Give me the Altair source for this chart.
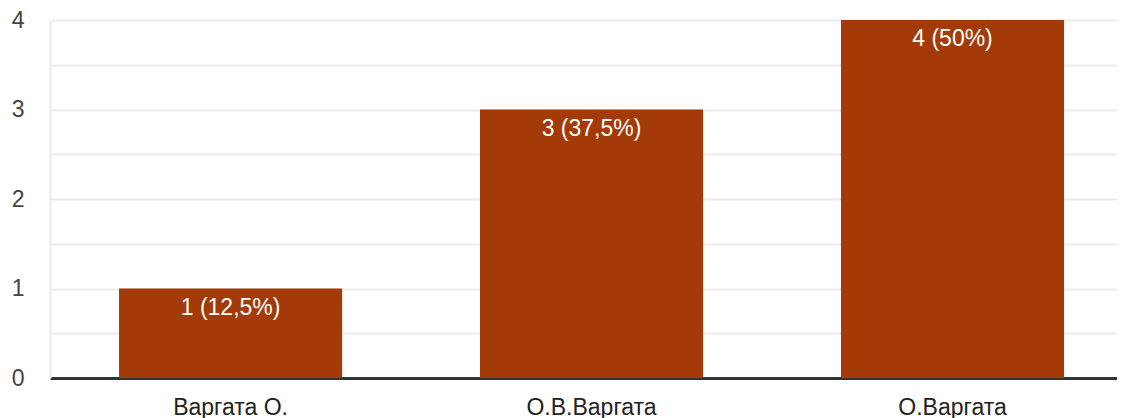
import altair as alt
import pandas as pd

categories = ["Варгата О.", "О.В.Варгата", "О.Варгата"]
counts = [1, 3, 4]
labels = ["1 (12,5%)", "3 (37,5%)", "4 (50%)"]

df = pd.DataFrame({"cat": categories, "n": counts, "lab": labels})

FONT = "Arial, Liberation Sans, sans-serif"

x = alt.X(
    "cat:N",
    sort=categories,
    title=None,
    scale=alt.Scale(paddingInner=0.382, paddingOuter=0.169, align=0.566),
    axis=alt.Axis(
        labelAngle=0,
        labelFontSize=23,
        labelColor="#222222",
        labelFont=FONT,
        labelPadding=18,
        ticks=False,
        domainColor="#333333",
        domainWidth=3,
        grid=False,
    ),
)
y = alt.Y(
    "n:Q",
    title=None,
    scale=alt.Scale(domain=[0, 4], nice=False),
    axis=alt.Axis(
        values=[0, 0.5, 1, 1.5, 2, 2.5, 3, 3.5, 4],
        labelExpr="datum.value % 1 == 0 ? format(datum.value, 'd') : ''",
        labelFontSize=23,
        labelColor="#444444",
        labelFont=FONT,
        labelPadding=26,
        ticks=False,
        domainColor="#ebebeb",
        domainWidth=2,
        gridColor="#ebebeb",
        gridWidth=2,
        labelBaseline="middle",
    ),
)

bars = alt.Chart(df).mark_bar(color="#a33a07").encode(x=x, y=y)
text = alt.Chart(df).mark_text(
    baseline="top", dy=8, color="white", fontSize=23, font=FONT
).encode(x=alt.X("cat:N", sort=categories), y="n:Q", text="lab:N")

chart = (
    alt.layer(bars, text)
    .properties(
        width=1067,
        height=358,
        autosize=alt.AutoSizeParams(type="none"),
        padding={"left": 42, "right": 0, "top": 12, "bottom": 40},
    )
    .configure_view(stroke=None)
)

chart.save("out.html", embed_options={"renderer": "svg", "actions": False})
